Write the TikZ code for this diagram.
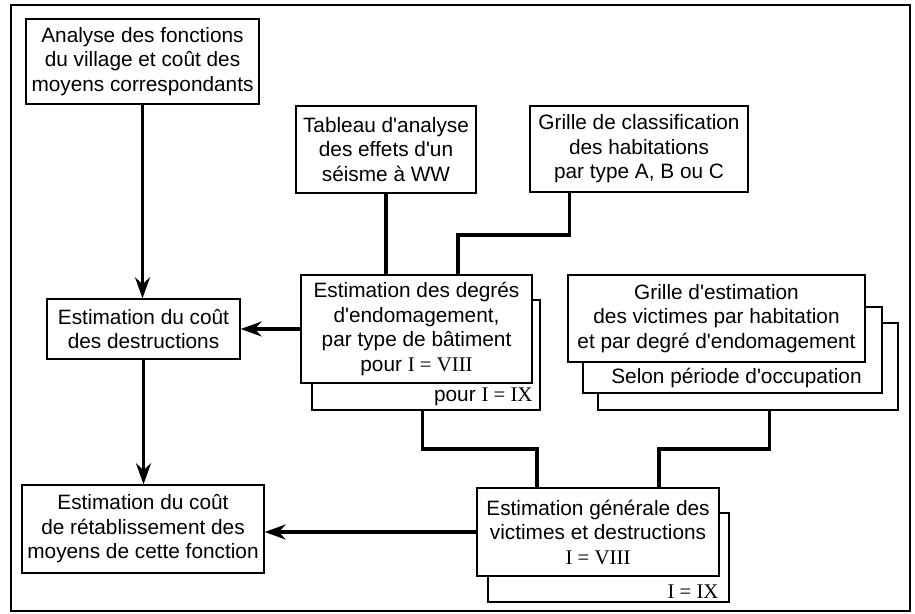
\documentclass[tikz,border=0pt]{standalone}
\usepackage{fontspec}
\setmainfont{Liberation Sans}[Ligatures=TeXOff]
\newfontfamily\rmpart{Liberation Serif}
\usetikzlibrary{arrows.meta}
\begin{document}
\begin{tikzpicture}[x=1pt,y=-1pt,
  box/.style={draw,line width=1.4pt,fill=white,inner sep=0pt,align=center,
    font=\fontsize{20.8}{24.5}\selectfont},
  conn/.style={line width=3.4pt},
  arr/.style={conn,-{Stealth[length=21pt,width=15pt,inset=7pt]}},
  lab/.style={inner sep=0pt,font=\fontsize{20.8}{24.5}\selectfont}]
\useasboundingbox (0,0) rectangle (915,613);
\node[draw,line width=1.5pt,minimum width=899pt,minimum height=606pt,inner sep=0pt] (frame) at (460.5,308) {};

% top-left
\node[box,minimum width=233pt,minimum height=85pt] (b1) at (142.5,61.5)
  {Analyse des fonctions\\du village et coût des\\moyens correspondants};
\node[box,minimum width=193pt,minimum height=60pt] (b6) at (143.5,329)
  {Estimation du coût\\des destructions};
\node[box,minimum width=242pt,minimum height=88pt] (b7) at (143,529)
  {Estimation du coût\\de rétablissement des\\moyens de cette fonction};

% sources
\node[box,minimum width=180pt,minimum height=87pt] (b2) at (386,149.5)
  {Tableau d'analyse\\des effets d'un\\séisme à WW};
\node[box,minimum width=218pt,minimum height=86pt] (b3) at (639,149)
  {Grille de classification\\des habitations\\par type A, B ou C};

% degrees box with shadow
\node[box,minimum width=228pt,minimum height=110pt] (b4s) at (426,355) {};
\node[lab,anchor=south east] (b4t) at ([xshift=-8pt,yshift=5pt]b4s.south east)
  {pour {\rmpart I = IX}};
\node[box,minimum width=231pt,minimum height=108pt] (b4) at (416.5,329)
  {Estimation des degrés\\d'endomagement,\\par type de bâtiment\\pour {\rmpart I = VIII}};

% victims grid with two layers
\node[box,minimum width=300pt,minimum height=87pt] (b5c) at (748,366.5) {};
\node[box,minimum width=299pt,minimum height=86pt] (b5b) at (732.5,350) {};
\node[lab,anchor=south] (b5t) at ([xshift=4pt,yshift=6pt]b5b.south)
  {Selon période d'occupation};
\node[box,minimum width=297pt,minimum height=87pt] (b5) at (716.5,318.5)
  {Grille d'estimation\\des victimes par habitation\\et par degré d'endomagement};

% general estimation with shadow
\node[box,minimum width=241pt,minimum height=89pt] (b8s) at (608.5,557.5) {};
\node[lab,anchor=south east] (b8t) at ([xshift=-11pt,yshift=4pt]b8s.south east)
  {\rmpart I = IX};
\node[box,minimum width=242pt,minimum height=88pt] (b8) at (598,532)
  {Estimation générale des\\victimes et destructions\\{\rmpart I = VIII}};

% junctions
\coordinate (j1) at (458,235);
\coordinate (j2) at (537,449);
\coordinate (j3) at (659,449);

% connectors
\draw[arr] (b1.south) -- (b1.south |- b6.north);
\draw[arr] (b6.south) -- (b6.south |- b7.north);
\draw[arr] (b4.west) -- (b4.west -| b6.east);
\draw[arr] (b8.west) -- (b8.west -| b7.east);
\draw[conn] (b2.south) -- (b2.south |- b4.north);
\draw[conn] ([xshift=40pt]b3.south west) |- (j1) -- (j1 |- b4.north);
\draw[conn] ([xshift=111pt]b4s.south west) |- (j2) -- (j2 |- b8.north);
\draw[conn] ([xshift=172pt]b5c.south west) |- (j3) -- (j3 |- b8.north);
\end{tikzpicture}
\end{document}
